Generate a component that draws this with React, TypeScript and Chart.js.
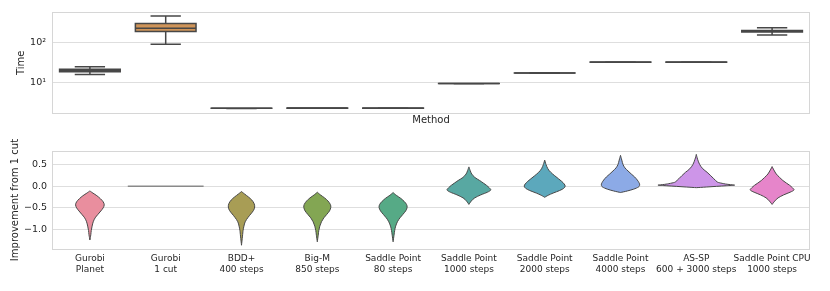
import React, { useEffect, useRef } from "react";
import { Chart, registerables } from "chart.js";
Chart.register(...registerables);

Chart.defaults.font.family = "'DejaVu Sans', sans-serif";
Chart.defaults.color = "#262626";

// ---------- data ----------
const categories: string[][] = [
  ["Gurobi", "Planet"],
  ["Gurobi", "1 cut"],
  ["BDD+", "400 steps"],
  ["Big-M", "850 steps"],
  ["Saddle Point", "80 steps"],
  ["Saddle Point", "1000 steps"],
  ["Saddle Point", "2000 steps"],
  ["Saddle Point", "4000 steps"],
  ["AS-SP", "600 + 3000 steps"],
  ["Saddle Point CPU", "1000 steps"],
];

const palette = [
  "#e98e9e", "#cf9459", "#a89d55", "#83a653", "#56aa86",
  "#58a8a2", "#5ca8bc", "#8caae6", "#cd95e8", "#e685ca",
];

// Time box plot statistics (log scale)
const timeMin = [15.7, 89, 2.28, 2.31, 2.3, 9.38, 17.05, 31.7, 31.7, 151];
const timeQ1 = [18.6, 183, 2.29, 2.32, 2.31, 9.42, 17.12, 31.9, 31.9, 179];
const timeMedian = [20, 221, 2.3, 2.33, 2.32, 9.45, 17.2, 32, 32, 186];
const timeQ3 = [21.2, 288, 2.31, 2.34, 2.33, 9.48, 17.28, 32.1, 32.1, 195];
const timeMax = [24.6, 446, 2.32, 2.35, 2.34, 9.52, 17.35, 32.3, 32.3, 226];

const timeTicks = [10, 100];
const improvementTicks = [-1.0, -0.5, 0.0, 0.5];

// Violin outlines: [value, half width in category units]
const violinGurobiPlanet = [
  [-0.11, 0], [-0.16, 0.04], [-0.22, 0.092], [-0.29, 0.139], [-0.36, 0.175],
  [-0.43, 0.189], [-0.5, 0.175], [-0.57, 0.145], [-0.65, 0.106], [-0.73, 0.069],
  [-0.82, 0.044], [-0.92, 0.029], [-1.02, 0.018], [-1.12, 0.012], [-1.24, 0],
];
const violinGurobi1Cut = [[0, 0.5]];
const violinBDD = [
  [-0.125, 0], [-0.18, 0.04], [-0.25, 0.092], [-0.32, 0.136], [-0.4, 0.166],
  [-0.48, 0.174], [-0.56, 0.158], [-0.64, 0.123], [-0.72, 0.086], [-0.82, 0.049],
  [-0.92, 0.032], [-1.02, 0.021], [-1.15, 0.013], [-1.36, 0],
];
const violinBigM = [
  [-0.14, 0], [-0.2, 0.04], [-0.27, 0.096], [-0.34, 0.14], [-0.42, 0.172],
  [-0.49, 0.178], [-0.57, 0.161], [-0.65, 0.125], [-0.73, 0.086], [-0.82, 0.055],
  [-0.92, 0.033], [-1.02, 0.02], [-1.13, 0.012], [-1.28, 0],
];
const violinSP80 = [
  [-0.147, 0], [-0.21, 0.042], [-0.28, 0.1], [-0.35, 0.145], [-0.42, 0.177],
  [-0.49, 0.185], [-0.57, 0.166], [-0.65, 0.129], [-0.73, 0.09], [-0.82, 0.057],
  [-0.92, 0.034], [-1.02, 0.021], [-1.13, 0.012], [-1.28, 0],
];
const violinSP1000 = [
  [0.443, 0], [0.36, 0.017], [0.28, 0.037], [0.2, 0.079], [0.13, 0.142],
  [0.07, 0.191], [0.02, 0.231], [-0.04, 0.27], [-0.09, 0.288], [-0.14, 0.244],
  [-0.2, 0.158], [-0.27, 0.077], [-0.34, 0.033], [-0.42, 0],
];
const violinSP2000 = [
  [0.6, 0], [0.5, 0.017], [0.4, 0.042], [0.32, 0.079], [0.24, 0.132],
  [0.17, 0.182], [0.11, 0.224], [0.05, 0.257], [0.0, 0.27], [-0.05, 0.251],
  [-0.1, 0.198], [-0.16, 0.11], [-0.21, 0.046], [-0.257, 0],
];
const violinSP4000 = [
  [0.708, 0], [0.6, 0.017], [0.5, 0.033], [0.42, 0.059], [0.35, 0.099],
  [0.28, 0.142], [0.21, 0.187], [0.14, 0.222], [0.08, 0.244], [0.03, 0.253],
  [-0.02, 0.237], [-0.07, 0.172], [-0.11, 0.092], [-0.147, 0],
];
const violinASSP = [
  [0.73, 0], [0.62, 0.017], [0.5, 0.044], [0.4, 0.086], [0.32, 0.142],
  [0.24, 0.191], [0.17, 0.231], [0.1, 0.274], [0.08, 0.303], [0.05, 0.383],
  [0.035, 0.449], [0.022, 0.505], [0.01, 0.396], [-0.005, 0.264], [-0.02, 0.132],
  [-0.035, 0],
];
const violinSPCPU = [
  [0.45, 0], [0.37, 0.024], [0.28, 0.055], [0.2, 0.099], [0.13, 0.142],
  [0.07, 0.189], [0.02, 0.231], [-0.04, 0.27], [-0.09, 0.288], [-0.14, 0.237],
  [-0.2, 0.154], [-0.27, 0.079], [-0.34, 0.037], [-0.42, 0],
];

const violins = [
  violinGurobiPlanet, violinGurobi1Cut, violinBDD, violinBigM, violinSP80,
  violinSP1000, violinSP2000, violinSP4000, violinASSP, violinSPCPU,
];

// ---------- styles ----------
const EDGE = "#474747";
const GRID = "#dedede";
const FRAME = "#d6d6d6";
const TEXT = "#262626";

const framePlugin = {
  id: "frame",
  beforeDatasetsDraw(chart: any) {
    const { ctx, chartArea: a } = chart;
    ctx.save();
    ctx.strokeStyle = FRAME;
    ctx.lineWidth = 1;
    ctx.strokeRect(Math.round(a.left) + 0.5, Math.round(a.top) + 0.5,
      Math.round(a.right - a.left) - 1, Math.round(a.bottom - a.top) - 1);
    ctx.restore();
  },
};

const boxPlugin = {
  id: "boxes",
  afterDatasetsDraw(chart: any) {
    const { ctx } = chart;
    const x = chart.scales.x;
    const y = chart.scales.y;
    ctx.save();
    ctx.strokeStyle = EDGE;
    ctx.lineWidth = 1.5;
    for (let i = 0; i < categories.length; i++) {
      const cx = x.getPixelForValue(i);
      const hw = x.getPixelForValue(i + 0.4) - cx;
      const cw = hw / 2;
      const yMin = y.getPixelForValue(timeMin[i]);
      const yQ1 = y.getPixelForValue(timeQ1[i]);
      const yMed = y.getPixelForValue(timeMedian[i]);
      const yQ3 = y.getPixelForValue(timeQ3[i]);
      const yMax = y.getPixelForValue(timeMax[i]);
      ctx.beginPath();
      ctx.rect(cx - hw, yQ3, 2 * hw, yQ1 - yQ3);
      ctx.stroke();
      ctx.beginPath();
      ctx.moveTo(cx, yQ1); ctx.lineTo(cx, yMin);
      ctx.moveTo(cx, yQ3); ctx.lineTo(cx, yMax);
      ctx.moveTo(cx - cw, yMin); ctx.lineTo(cx + cw, yMin);
      ctx.moveTo(cx - cw, yMax); ctx.lineTo(cx + cw, yMax);
      ctx.moveTo(cx - hw, yMed); ctx.lineTo(cx + hw, yMed);
      ctx.stroke();
    }
    ctx.restore();
  },
};

function catmull(ctx: CanvasRenderingContext2D, pts: number[][]) {
  for (let k = 0; k < pts.length - 1; k++) {
    const p0 = pts[Math.max(k - 1, 0)];
    const p1 = pts[k];
    const p2 = pts[k + 1];
    const p3 = pts[Math.min(k + 2, pts.length - 1)];
    const c1x = p1[0] + (p2[0] - p0[0]) / 6;
    const c1y = p1[1] + (p2[1] - p0[1]) / 6;
    const c2x = p2[0] - (p3[0] - p1[0]) / 6;
    const c2y = p2[1] - (p3[1] - p1[1]) / 6;
    ctx.bezierCurveTo(c1x, c1y, c2x, c2y, p2[0], p2[1]);
  }
}

const violinPlugin = {
  id: "violins",
  afterDatasetsDraw(chart: any) {
    const { ctx } = chart;
    const x = chart.scales.x;
    const y = chart.scales.y;
    ctx.save();
    violins.forEach((pts, i) => {
      if (pts.length === 1) {
        const [v, w] = pts[0];
        ctx.strokeStyle = "#8a8a8a";
        ctx.lineWidth = 1.5;
        ctx.beginPath();
        ctx.moveTo(x.getPixelForValue(i - w), y.getPixelForValue(v));
        ctx.lineTo(x.getPixelForValue(i + w), y.getPixelForValue(v));
        ctx.stroke();
        return;
      }
      const right = pts.map(([v, w]) => [x.getPixelForValue(i + w), y.getPixelForValue(v)]);
      const left = pts.slice().reverse().map(([v, w]) => [x.getPixelForValue(i - w), y.getPixelForValue(v)]);
      ctx.beginPath();
      ctx.moveTo(right[0][0], right[0][1]);
      catmull(ctx, right);
      catmull(ctx, left);
      ctx.closePath();
      ctx.fillStyle = palette[i];
      ctx.fill();
      ctx.strokeStyle = EDGE;
      ctx.lineWidth = 1;
      ctx.stroke();
    });
    ctx.restore();
  },
};

const superscript: Record<number, string> = { 10: "10¹", 100: "10²" };

export default function App() {
  const topRef = useRef<HTMLCanvasElement>(null);
  const botRef = useRef<HTMLCanvasElement>(null);

  useEffect(() => {
    const top = new Chart(topRef.current!, {
      type: "bar",
      data: {
        labels: categories,
        datasets: [
          {
            data: categories.map((_, i) => [timeQ1[i], timeQ3[i]]) as any,
            backgroundColor: palette,
            borderWidth: 0,
            barPercentage: 0.8,
            categoryPercentage: 1,
          },
        ],
      },
      options: {
        responsive: false,
        animation: false,
        events: [],
        layout: { padding: { left: 0, top: 11, right: 20, bottom: 0 } },
        plugins: { legend: { display: false }, tooltip: { enabled: false } },
        scales: {
          x: {
            offset: true,
            grid: { display: false, drawTicks: false },
            border: { display: false },
            ticks: { display: false },
            title: { display: true, text: "Method", font: { size: 10 }, color: TEXT, padding: 0 },
          },
          y: {
            type: "logarithmic",
            min: 1.66,
            max: 568,
            afterFit: (s: any) => { s.width = 52; },
            afterBuildTicks: (s: any) => { s.ticks = timeTicks.map((v) => ({ value: v })); },
            grid: { color: GRID, drawTicks: false, lineWidth: 1 },
            border: { display: false },
            ticks: {
              padding: 6,
              font: { size: 9.5 },
              color: TEXT,
              callback: (v: any) => superscript[Number(v)] ?? "",
            },
            title: { display: true, text: "Time", font: { size: 10 }, color: TEXT, padding: { top: 15, bottom: 0 } },
          },
        },
      },
      plugins: [framePlugin, boxPlugin],
    });

    const bot = new Chart(botRef.current!, {
      type: "bar",
      data: {
        labels: categories,
        datasets: [{ data: [] }],
      },
      options: {
        responsive: false,
        animation: false,
        events: [],
        layout: { padding: { left: 0, top: 24.7, right: 20, bottom: 12 } },
        plugins: { legend: { display: false }, tooltip: { enabled: false } },
        scales: {
          x: {
            offset: true,
            grid: { display: false, drawTicks: false },
            border: { display: false },
            ticks: { padding: 4, font: { size: 9 }, color: TEXT, maxRotation: 0, autoSkip: false },
          },
          y: {
            type: "linear",
            min: -1.456,
            max: 0.816,
            afterFit: (s: any) => { s.width = 52; },
            afterBuildTicks: (s: any) => { s.ticks = improvementTicks.map((v) => ({ value: v })); },
            grid: { color: GRID, drawTicks: false, lineWidth: 1 },
            border: { display: false },
            ticks: {
              padding: 5,
              font: { size: 9.5 },
              color: TEXT,
              callback: (v: any) => {
                const n = Number(v);
                return (n < 0 ? "\u2212" : "") + Math.abs(n).toFixed(1);
              },
            },
            title: {
              display: true,
              text: "Improvement from 1 cut",
              font: { size: 10 },
              color: TEXT,
              padding: { top: 9, bottom: 0 },
            },
          },
        },
      },
      plugins: [framePlugin, violinPlugin],
    });

    return () => {
      top.destroy();
      bot.destroy();
    };
  }, []);

  return (
    <div style={{ position: "absolute", left: 0, top: 0, width: 830, height: 291, background: "#fff" }}>
      <canvas ref={topRef} width={830} height={126} style={{ position: "absolute", left: 0, top: 0, display: "block" }} />
      <canvas ref={botRef} width={830} height={165} style={{ position: "absolute", left: 0, top: 126, display: "block" }} />
    </div>
  );
}
